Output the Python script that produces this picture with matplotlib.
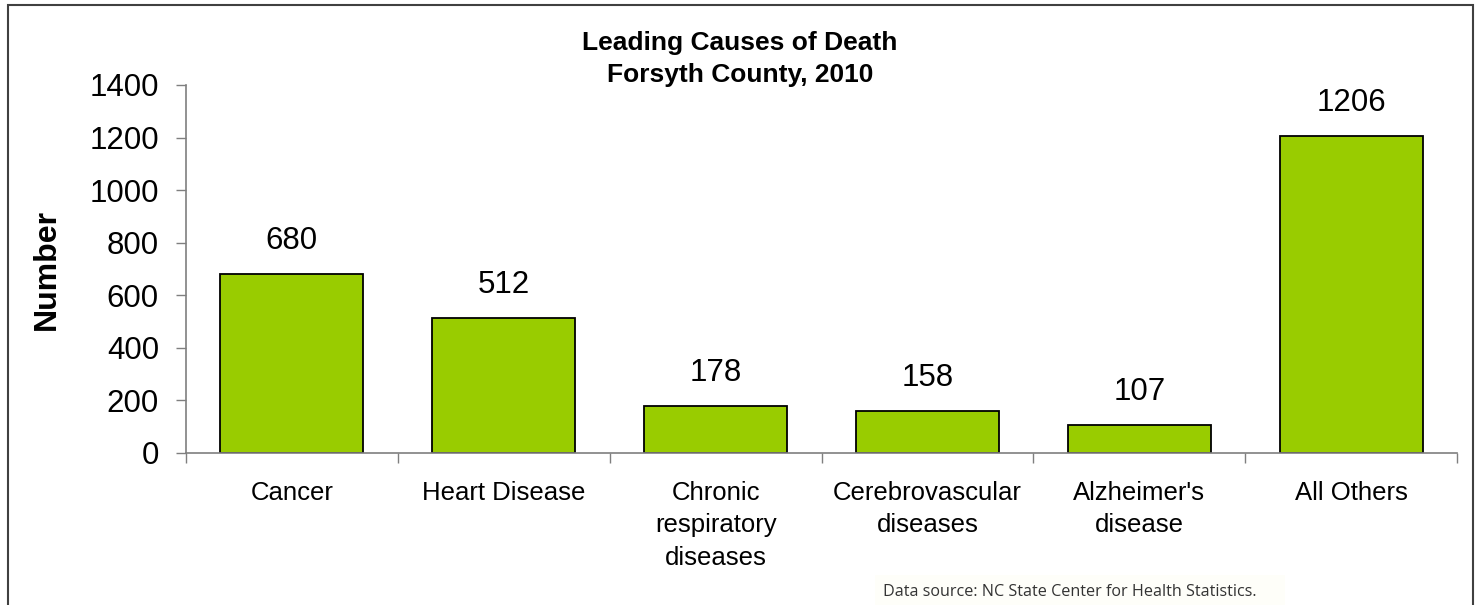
import matplotlib
matplotlib.use("Agg")
import matplotlib.pyplot as plt
from matplotlib.patches import Rectangle
import numpy as np

plt.rcParams["font.family"] = ["Liberation Sans", "DejaVu Sans"]

causes = ["Cancer", "Heart Disease", "Chronic\nrespiratory\ndiseases",
          "Cerebrovascular\ndiseases", "Alzheimer's\ndisease", "All Others"]
deaths = [680, 512, 178, 158, 107, 1206]
yticks = [0, 200, 400, 600, 800, 1000, 1200, 1400]

GREEN = "#99CC00"
AXIS = "#7f7f7f"

fig = plt.figure(figsize=(14.8, 6.05), dpi=100)
ax = fig.add_axes([186 / 1480, 1 - 453 / 605, (1457 - 186) / 1480, (453 - 85) / 605])

x = np.arange(len(causes))
bars = ax.bar(x, deaths, width=0.675, color=GREEN, edgecolor="black", linewidth=1.3, zorder=2)
for b, v in zip(bars, deaths):
    ax.annotate(f"{v}", (b.get_x() + b.get_width() / 2, v), xytext=(0, 13),
                textcoords="offset points", ha="center", va="bottom", fontsize=22.5)

ax.set_xlim(-0.5, len(causes) - 0.5)
ax.set_ylim(0, 1400)
ax.set_yticks(yticks)
ax.tick_params(axis="y", labelsize=22.5, length=7.5, width=1, color=AXIS, pad=12)
ax.set_xticks(x)
ax.set_xticklabels(causes, fontsize=18.5, linespacing=1.45, va="top")
ax.tick_params(axis="x", length=0, pad=20)
ax.set_xticks(np.arange(-0.5, len(causes)), minor=True)
ax.tick_params(axis="x", which="minor", length=7, width=1, color=AXIS)

for s in ["top", "right"]:
    ax.spines[s].set_visible(False)
for s in ["left", "bottom"]:
    ax.spines[s].set_color(AXIS)
    ax.spines[s].set_linewidth(1.2)

ax.set_ylabel("Number", fontsize=23, fontweight="bold", labelpad=20)

fig.text(0.5, 1 - 59 / 605, "Leading Causes of Death\nForsyth County, 2010",
         ha="center", va="center", fontsize=19, fontweight="bold", linespacing=1.45)

fig.patches.append(Rectangle((875 / 1480, 0), (1285 - 875) / 1480, 30 / 605,
                             transform=fig.transFigure, facecolor="#fefef9",
                             edgecolor="none", zorder=0))
fig.text(883 / 1480, 1 - 592 / 605, "Data source: NC State Center for Health Statistics.",
         ha="left", va="center", fontsize=11.6, color="#333333",
         family=["Open Sans", "DejaVu Sans"])

fig.patches.append(Rectangle((8 / 1480, -0.05), (1473 - 8) / 1480, 1.05 - 5 / 605,
                             transform=fig.transFigure, facecolor="none",
                             edgecolor="#404040", linewidth=1.5, zorder=5))

fig.savefig("out.png", dpi=100)
